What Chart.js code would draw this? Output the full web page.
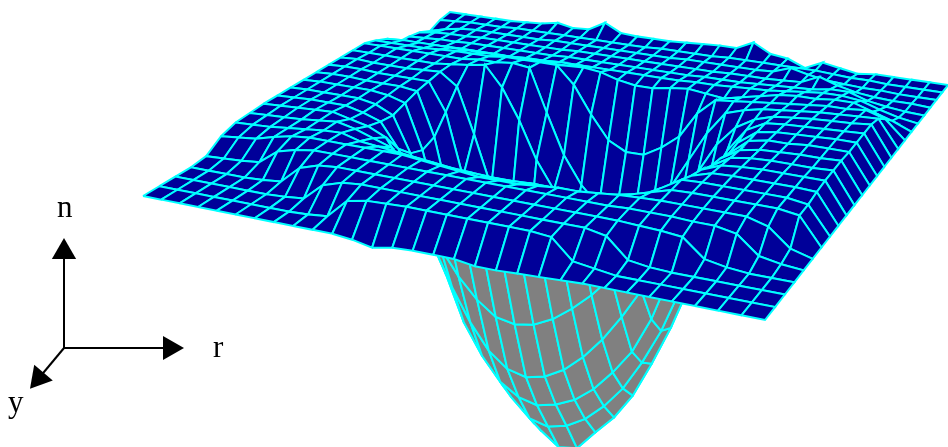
<!DOCTYPE html>
<html>
<head>
<meta charset="utf-8">
<script src="https://cdn.jsdelivr.net/npm/chart.js@4"></script>
<style>
html, body { margin: 0; background: #fff; }
canvas { display: block; }
</style>
</head>
<body>
<canvas id="Chart1" width="948" height="447"></canvas>
<script>
// surface height above the sheet, heights[j][i]
var heights = [
[0,0,0,0,0,0,0,0,0,0,0,-2,-6,-2,-1,-1,-1,-4,-4,-3,-2,-1,0,0,0,0,0,0,0,0,0],
[0,0,0,0,0,0,0,0,1,3,22,26,27,28,28,28,28,28,28,28,26,6,3,0,0,0,0,0,0,0,0],
[0,0,0,0,0,0,1,3,20,26,28,28,28,28,28,28,28,28,28,28,28,28,24,4,1,0,0,0,0,0,0],
[0,0,0,0,1,3,20,26,28,28,28,28,28,28,28,28,28,28,28,28,28,28,28,27,26,24,6,2,0,0,0],
[2,3,4,6,20,25,28,28,28,28,28,28,28,28,28,28,28,28,28,28,28,28,29,29,29,28,28,24,6,2,0],
[13,15,17,22,26,28,28,28,28,28,28,26,24,22,20,20,20,22,24,24,26,28,29,30,30,30,30,30,24,6,0],
[18,19,20,22,24,26,27,22,20,18,16,14,12,11,10,10,11,11,11,11,14,18,24,30,31,31,31,31,31,28,0],
[19,20,21,22,24,26,22,16,10,-5,-28,-52,-70,-82,-85,-83,-75,-63,-47,-28,-10,7,18,30,31,31,31,31,31,28,0],
[20,21,22,23,24,20,16,8,-18,-54,-92,-118,-138,-152,-156,-153,-144,-130,-113,-92,-62,-32,6,24,30,31,31,31,31,30,0],
[20,21,22,22,22,18,12,-12,-58,-104,-141,-173,-198,-213,-218,-214,-204,-188,-167,-141,-111,-70,-5,20,28,30,31,31,31,31,0],
[20,21,21,21,21,18,10,-25,-85,-140,-185,-215,-238,-250,-255,-251,-243,-229,-209,-185,-149,-100,-30,14,26,29,30,30,30,31,0],
[20,21,21,21,21,19,14,-30,-95,-150,-200,-235,-262,-280,-285,-281,-271,-255,-234,-205,-170,-125,-50,12,24,28,29,30,30,31,0],
[20,21,21,20,20,20,18,-25,-95,-155,-205,-245,-275,-300,-314,-312,-293,-275,-250,-215,-176,-130,-60,8,24,28,28,30,30,30,0],
[20,21,21,20,20,20,20,-8,-70,-125,-175,-215,-250,-275,-288,-280,-265,-245,-215,-175,-135,-85,-35,10,24,27,28,29,30,30,0],
[20,21,20,20,20,21,22,10,-35,-85,-130,-165,-195,-215,-235,-225,-220,-200,-170,-130,-85,-45,-10,14,24,26,27,28,29,30,0],
[20,20,20,20,20,20,22,24,27,7,-23,-60,-87,-125,-160,-163,-165,-150,-120,-85,-45,-15,5,16,22,24,26,27,28,30,0],
[20,20,20,20,20,20,20,22,22,24,22,-20,-60,-87,-105,-108,-110,-100,-75,-45,-15,8,14,18,20,22,24,25,26,27,0],
[16,16,16,16,17,18,18,18,20,20,20,20,3,-24,-47,-56,-56,-46,-32,-6,10,12,14,16,18,20,22,22,24,18,0],
[11,12,12,12,12,12,12,12,12,12,12,12,13,11,6,3,3,6,8,6,4,8,12,16,18,18,20,20,14,8,0],
[1,2,3,4,4,4,4,4,5,5,6,6,6,6,6,6,6,6,7,7,8,9,10,12,14,16,16,14,8,3,0],
[0,1,2,2,3,3,3,3,3,3,4,4,4,4,4,4,4,4,5,5,5,6,7,8,9,12,12,6,3,1,0],
[-2,0,1,1,2,2,2,2,2,2,3,3,3,3,3,3,3,3,3,4,4,4,5,6,14,8,4,2,1,1,0],
[-7,-3,0,1,1,1,1,1,2,2,2,2,2,2,2,2,3,3,3,3,3,4,10,6,3,2,1,1,0,0,0],
[-2,-1,0,0,0,1,1,1,1,1,1,1,1,1,2,2,2,2,3,3,3,3,3,3,2,1,1,0,0,0,0],
[0,0,0,0,0,1,2,5,2,3,12,4,3,3,3,4,5,6,6,14,5,3,-4,4,1,-2,0,0,0,0,0]
];

// corners of the flat sheet on the page: left, front, right, back
var sheet_x = [143, 765, 948, 450];
var sheet_y = [196, 320, 85, 12];

var axis_names = ["n", "r", "y"];
var axis_start = [[64, 348], [64, 348], [64, 348]];
var axis_head = [[64, 252], [170, 348], [39, 378]];
var axis_turn = [0, 90, 220];
var axis_text = [[57, 217], [213, 357], [8, 412]];

var col_top = "#000099";
var col_under = "#808080";
var col_line = "#00ffff";

// square -> sheet perspective, taken from the four corners
function makeProjection() {
    var x = sheet_x, y = sheet_y;
    var dx1 = x[1] - x[2], dx2 = x[3] - x[2], sx = x[0] - x[1] + x[2] - x[3];
    var dy1 = y[1] - y[2], dy2 = y[3] - y[2], sy = y[0] - y[1] + y[2] - y[3];
    var det = dx1 * dy2 - dx2 * dy1;
    var g = (sx * dy2 - dx2 * sy) / det;
    var h = (dx1 * sy - sx * dy1) / det;
    var a = x[1] - x[0] + g * x[1], b = x[3] - x[0] + h * x[3];
    var d = y[1] - y[0] + g * y[1], e = y[3] - y[0] + h * y[3];
    return function (u, v, z) {
        var w = g * u + h * v + 1;
        return { x: (a * u + b * v + x[0]) / w, y: (d * u + e * v + y[0]) / w - z };
    };
}

function buildSurface() {
    var project = makeProjection();
    var rows = heights.length - 1, cols = heights[0].length - 1;
    var node = function (i, j) { return project(i / cols, j / rows, heights[j][i]); };
    var out = [];
    // chart.js paints the last dataset first, so the nearest quad goes first
    for (var j = 0; j < rows; j++) {
        for (var i = cols - 1; i >= 0; i--) {
            var p = [node(i, j), node(i + 1, j), node(i + 1, j + 1), node(i, j + 1)];
            var area = 0;
            for (var k = 0; k < 4; k++) {
                var q = p[(k + 1) % 4];
                area += p[k].x * q.y - q.x * p[k].y;
            }
            var mean = (heights[j][i] + heights[j][i + 1] + heights[j + 1][i + 1] + heights[j + 1][i]) / 4;
            out.push({
                data: [p[0], p[1], p[2], p[3], p[0]],
                showLine: true,
                fill: "shape",
                backgroundColor: (area > 0 && mean < -20) ? col_under : col_top,
                borderColor: col_line,
                borderWidth: 2,
                pointRadius: 0,
                tension: 0
            });
        }
    }
    return out;
}

function buildAxes() {
    return axis_names.map(function (name, n) {
        return {
            label: name,
            data: [
                { x: axis_start[n][0], y: axis_start[n][1] },
                { x: axis_head[n][0], y: axis_head[n][1] }
            ],
            showLine: true,
            borderColor: "#000",
            backgroundColor: "#000",
            borderWidth: 2,
            pointStyle: "triangle",
            pointRadius: [0, 14],
            pointBorderWidth: 0,
            rotation: axis_turn[n]
        };
    });
}

var axisLabels = {
    id: "axisLabels",
    afterDraw: function (chart) {
        var ctx = chart.ctx;
        ctx.save();
        ctx.fillStyle = "#000";
        ctx.font = "31px 'Liberation Serif'";
        ctx.textAlign = "left";
        ctx.textBaseline = "alphabetic";
        axis_names.forEach(function (name, n) {
            ctx.fillText(name, chart.scales.x.getPixelForValue(axis_text[n][0]), chart.scales.y.getPixelForValue(axis_text[n][1]));
        });
        ctx.restore();
    }
};

function renderChart(id_chart) {
    var ctx = document.getElementById(id_chart).getContext("2d");
    return new Chart(ctx, {
        type: "scatter",
        data: { datasets: buildAxes().concat(buildSurface()) },
        options: {
            responsive: false,
            animation: false,
            layout: { padding: 0, autoPadding: false },
            plugins: { legend: { display: false }, tooltip: { enabled: false } },
            scales: {
                x: { type: "linear", display: false, min: 0, max: 948 },
                y: { type: "linear", display: false, min: 0, max: 447, reverse: true }
            }
        },
        plugins: [axisLabels]
    });
}

renderChart("Chart1");
</script>
</body>
</html>
